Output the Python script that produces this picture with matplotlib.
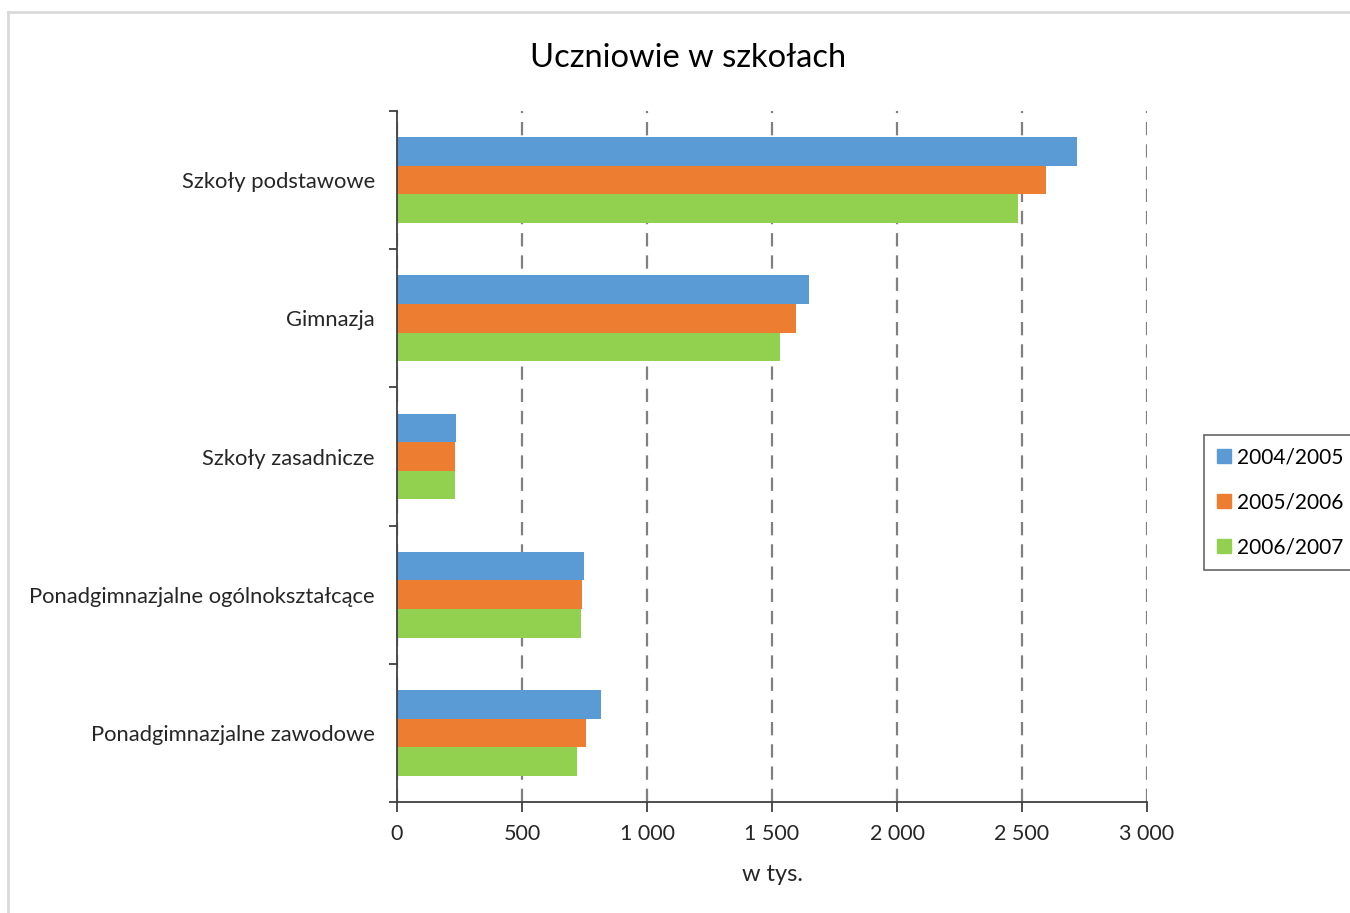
import matplotlib
matplotlib.use("Agg")
import matplotlib.pyplot as plt
from matplotlib.ticker import FuncFormatter, FixedLocator
from matplotlib.lines import Line2D
import numpy as np

plt.rcParams['font.family'] = ['Lato', 'DejaVu Sans']

# ===================== dane =====================
kategorie = ["Szkoły podstawowe", "Gimnazja", "Szkoły zasadnicze",
             "Ponadgimnazjalne ogólnokształcące", "Ponadgimnazjalne zawodowe"]
lata = ["2004/2005", "2005/2006", "2006/2007"]
r2004 = [2719, 1647, 237, 749, 816]
r2005 = [2597, 1595, 232, 740, 755]
r2006 = [2485, 1533, 232, 735, 719]
kolory = ["#5B9BD5", "#ED7D31", "#92D050"]
x_ticks = [0, 500, 1000, 1500, 2000, 2500, 3000]

# ===================== wykres =====================
fig = plt.figure(figsize=(13.5, 9.13), dpi=100)
ax = fig.add_axes([397 / 1350, 1 - 802 / 913, 750 / 1350, 691 / 913])

y = np.arange(len(kategorie))
h = 0.207
for i, (vals, lab, kol) in enumerate(zip([r2004, r2005, r2006], lata, kolory)):
    ax.barh(y + (i - 1) * h, vals, height=h, color=kol, label=lab,
            edgecolor="none", zorder=2)

ax.set_xlim(0, 3000)
ax.set_ylim(len(kategorie) - 0.5, -0.5)

ax.set_xticks(x_ticks)
ax.xaxis.set_major_formatter(FuncFormatter(lambda v, p: f"{int(v):,}".replace(",", " ")))
ax.set_yticks(y)
ax.set_yticklabels(kategorie)
ax.yaxis.set_minor_locator(FixedLocator(np.arange(len(kategorie) + 1) - 0.5))

ax.tick_params(axis="y", which="major", length=0, pad=16, labelsize=15.8, labelcolor="#262626")
ax.tick_params(axis="y", which="minor", length=6, width=1.3, color="#404040")
ax.tick_params(axis="x", length=7, width=1.3, color="#404040", pad=9,
               labelsize=15.5, labelcolor="#262626")

ax.grid(axis="x", color="#808080", linewidth=1.6, linestyle=(0, (6, 4)), zorder=1)
ax.set_axisbelow(True)

for s in ["top", "right"]:
    ax.spines[s].set_visible(False)
for s in ["left", "bottom"]:
    ax.spines[s].set_color("#404040")
    ax.spines[s].set_linewidth(1.3)

ax.set_xlabel("w tys.", fontsize=17, color="#262626", labelpad=14)
fig.text(688 / 1350, 1 - 58 / 913, "Uczniowie w szkołach", ha="center", va="center",
         fontsize=23.5, color="#000000")

# legenda z kwadratowymi znacznikami
uchwyty = [Line2D([], [], marker="s", linestyle="none", markersize=10.5,
                  markerfacecolor=k, markeredgecolor=k) for k in kolory]
leg = fig.legend(uchwyty, lata, loc="upper left",
                 bbox_to_anchor=(1204 / 1350, 1 - 435 / 913),
                 fontsize=15, frameon=True, fancybox=False, handlelength=0.7,
                 handletextpad=0.3, labelspacing=1.2, borderpad=0.6,
                 borderaxespad=0)
leg.get_frame().set_edgecolor("#404040")
leg.get_frame().set_linewidth(1.2)

# jasna ramka obszaru wykresu
fig.add_artist(Line2D([8 / 1350, 8 / 1350], [0, 1 - 12 / 913], transform=fig.transFigure,
                      color="#D9D9D9", linewidth=2))
fig.add_artist(Line2D([8 / 1350, 1], [1 - 12 / 913, 1 - 12 / 913], transform=fig.transFigure,
                      color="#D9D9D9", linewidth=2))

fig.savefig("out.png", dpi=100)
plt.close(fig)
